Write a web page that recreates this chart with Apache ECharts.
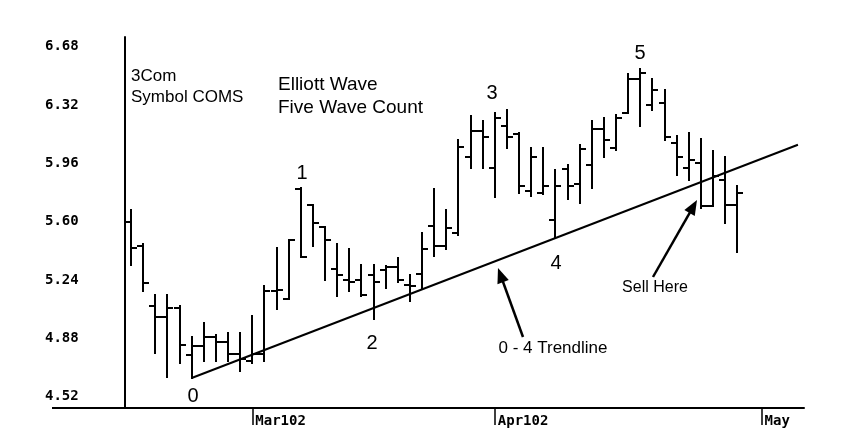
<!DOCTYPE html>
<html><head><meta charset="utf-8">
<script src="https://cdn.jsdelivr.net/npm/echarts@6/dist/echarts.min.js"></script>
<style>html,body{margin:0;padding:0;background:#fff}#c{width:855px;height:446px}</style>
</head><body><div id="c"></div>
<script>
// Trading days (category axis)
const dates = [
 '2002-02-14','2002-02-15','2002-02-19','2002-02-20','2002-02-21','2002-02-22','2002-02-25','2002-02-26','2002-02-27','2002-02-28',
 '2002-03-01','2002-03-04','2002-03-05','2002-03-06','2002-03-07','2002-03-08','2002-03-11','2002-03-12','2002-03-13','2002-03-14',
 '2002-03-15','2002-03-18','2002-03-19','2002-03-20','2002-03-21','2002-03-22','2002-03-25','2002-03-26','2002-03-27','2002-03-28',
 '2002-04-01','2002-04-02','2002-04-03','2002-04-04','2002-04-05','2002-04-08','2002-04-09','2002-04-10','2002-04-11','2002-04-12',
 '2002-04-15','2002-04-16','2002-04-17','2002-04-18','2002-04-19','2002-04-22','2002-04-23','2002-04-24','2002-04-25','2002-04-26',
 '2002-04-29','2002-04-30','2002-05-01','2002-05-02','2002-05-03','2002-05-06'
];
const opens  = [5.60,5.45,5.08,5.01,5.07,4.78,4.83,4.89,4.855,4.785,4.74,4.785,5.17,5.12,5.80,5.70,5.57,5.31,5.24,5.24,5.27,5.30,5.32,5.21,5.28,5.575,5.45,5.53,6.00,6.16,5.93,6.19,6.14,5.79,5.78,5.61,5.925,5.83,5.95,6.17,6.055,6.27,6.48,6.32,6.33,6.085,5.93,5.96,5.695,5.855,5.70];
const highs  = [5.67,5.46,5.15,5.15,5.08,4.89,4.975,4.90,4.91,4.91,5.02,5.20,5.44,5.49,5.81,5.705,5.57,5.46,5.43,5.335,5.335,5.325,5.375,5.27,5.53,5.80,5.67,6.105,6.25,6.22,6.27,6.29,6.15,6.055,6.055,5.92,5.95,6.075,6.22,6.24,6.26,6.51,6.54,6.48,6.41,6.13,6.15,6.11,6.035,6.00,5.82];
const lows   = [5.33,5.17,4.79,4.64,4.73,4.635,4.74,4.74,4.74,4.68,4.73,4.74,5.06,5.12,5.38,5.45,5.24,5.14,5.17,5.14,5.00,5.19,5.23,5.11,5.19,5.39,5.43,5.52,5.93,5.93,5.75,6.055,5.78,5.76,5.77,5.50,5.74,5.715,5.81,6.00,6.045,6.27,6.19,6.29,6.105,5.89,5.86,5.685,5.695,5.59,5.415];
const closes = [5.44,5.22,5.01,5.07,4.84,4.83,4.89,4.855,4.785,4.75,4.785,5.17,5.18,5.49,5.38,5.59,5.485,5.27,5.23,5.15,5.23,5.32,5.24,5.20,5.43,5.45,5.56,6.06,6.16,6.12,6.24,6.12,5.82,6.00,5.82,5.82,5.82,6.05,6.17,6.105,6.24,6.48,6.52,6.41,6.12,6.00,5.98,5.695,5.88,5.70,5.78];
const yTickValues = [4.52,4.88,5.24,5.60,5.96,6.32,6.68];
const xTickDates  = ['2002-03-01','2002-04-01','2002-05-01'];
const xTickLabels = ['Mar102','Apr102','May'];
const trendDates  = ['2002-02-22','2002-05-06'];
const trendValues = [4.635, 6.075];

const ohlc = opens.map((o,i)=>[i,o,highs[i],lows[i],closes[i]]);
const FONT = 'Liberation Sans, Arial, sans-serif';
const MONO = 'DejaVu Sans Mono, monospace';

function txt(x,y,text,size,align){
  return {type:'text', x:x, y:y, z:100, style:{text:text, fontSize:size, fontFamily:FONT, fill:'#000', align:align||'left', verticalAlign:'middle'}};
}
function arrow(tail, tip){
  const dx = tip[0]-tail[0], dy = tip[1]-tail[1];
  const len = Math.sqrt(dx*dx+dy*dy), ux = dx/len, uy = dy/len;
  const hl = 15, hw = 6;
  const bx = tip[0]-ux*hl, by = tip[1]-uy*hl;
  return [
    {type:'line', z:100, shape:{x1:tail[0],y1:tail[1],x2:bx+ux*2,y2:by+uy*2}, style:{stroke:'#000', lineWidth:2.5}},
    {type:'polygon', z:100, shape:{points:[[tip[0],tip[1]],[bx-uy*hw,by+ux*hw],[bx+uy*hw,by-ux*hw]]}, style:{fill:'#000'}}
  ];
}

const chart = echarts.init(document.getElementById('c'), null, {renderer:'canvas'});
chart.setOption({
  animation:false,
  backgroundColor:'#fff',
  grid:{left:125, right:51, top:37, bottom:38, containLabel:false, outerBoundsMode:'none'},
  xAxis:{
    type:'category', data:dates, boundaryGap:true,
    axisLine:{show:true, lineStyle:{color:'#000', width:2}},
    axisTick:{show:true, alignWithLabel:true, interval:(i,v)=>xTickDates.indexOf(v)>=0, length:17, lineStyle:{color:'#000', width:1.5}},
    axisLabel:{interval:(i,v)=>xTickDates.indexOf(v)>=0, formatter:v=>xTickLabels[xTickDates.indexOf(v)], align:'left', padding:[0,0,0,3], margin:6,
      fontFamily:MONO, fontSize:14, fontWeight:'bold', color:'#000'},
    splitLine:{show:false}
  },
  yAxis:{
    type:'value', min:4.45, max:6.74, scale:true,
    axisLine:{show:true, lineStyle:{color:'#000', width:2}},
    axisTick:{show:false}, splitLine:{show:false},
    axisLabel:{customValues:yTickValues, formatter:v=>v.toFixed(2), align:'left', margin:80,
      fontFamily:MONO, fontSize:14, fontWeight:'bold', color:'#000'}
  },
  series:[
    {
      type:'custom', data:ohlc, encode:{x:0, y:[1,2,3,4]},
      renderItem:function(params, api){
        const i = api.value(0);
        const o = api.coord([i, api.value(1)]);
        const h = api.coord([i, api.value(2)]);
        const l = api.coord([i, api.value(3)]);
        const c = api.coord([i, api.value(4)]);
        const x = Math.round(h[0]);
        const t = 6;
        const st = {stroke:'#000', lineWidth:2};
        return {type:'group', children:[
          {type:'line', shape:{x1:x, y1:Math.round(h[1])-1, x2:x, y2:Math.round(l[1])+1}, style:st},
          {type:'line', shape:{x1:x-t, y1:Math.round(o[1]), x2:x, y2:Math.round(o[1])}, style:st},
          {type:'line', shape:{x1:x, y1:Math.round(c[1]), x2:x+t, y2:Math.round(c[1])}, style:st}
        ]};
      }
    },
    {
      type:'line', data:trendDates.map((d,i)=>[d, trendValues[i]]), symbol:'none',
      lineStyle:{color:'#000', width:2}, z:5
    }
  ],
  graphic:[
    {type:'line', shape:{x1:52, y1:408, x2:126, y2:408}, style:{stroke:'#000', lineWidth:2}},
    txt(131, 76, '3Com', 17),
    txt(131, 97, 'Symbol COMS', 17),
    txt(278, 85, 'Elliott Wave', 19),
    txt(278, 108, 'Five Wave Count', 19),
    txt(193, 396, '0', 20, 'center'),
    txt(302, 173, '1', 20, 'center'),
    txt(372, 343, '2', 20, 'center'),
    txt(492, 93, '3', 20, 'center'),
    txt(556, 263, '4', 20, 'center'),
    txt(640, 53, '5', 20, 'center'),
    txt(553, 348, '0 - 4 Trendline', 17, 'center'),
    txt(655, 288, 'Sell Here', 16, 'center')
  ].concat(arrow([523,337],[498,268])).concat(arrow([653,277],[697,200]))
});
</script>
</body></html>
